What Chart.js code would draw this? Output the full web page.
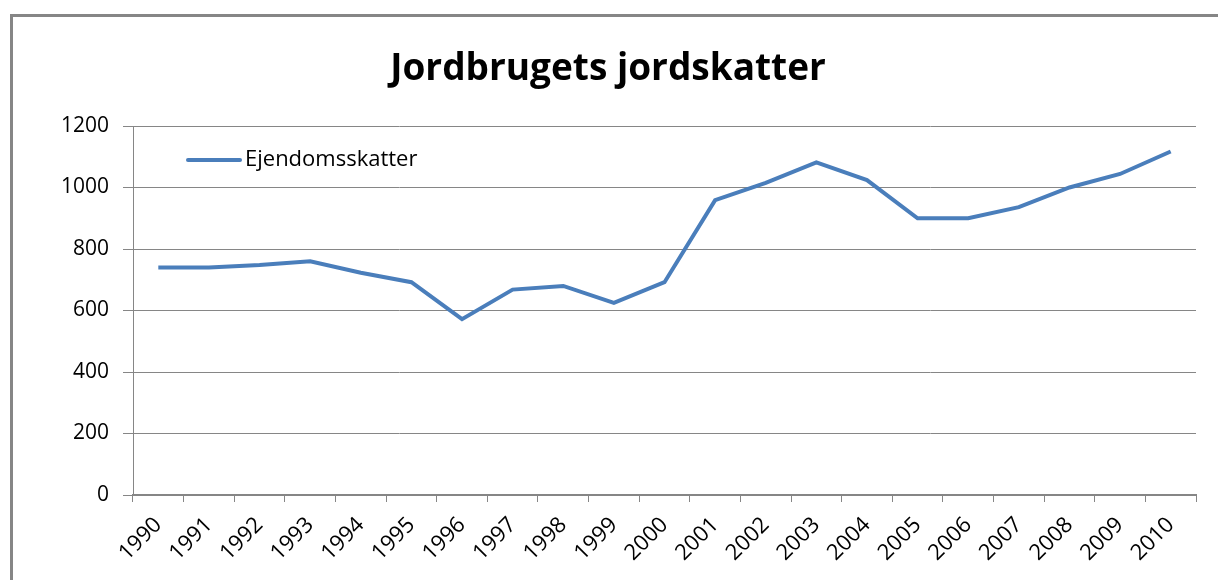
<!DOCTYPE html>
<html lang="da">
<head>
<meta charset="UTF-8">
<title>Jordbrugets jordskatter</title>
<script src="https://cdn.jsdelivr.net/npm/chart.js"></script>
<style>
  html, body { margin: 0; padding: 0; background: #fff; }
  #wrap { width: 1218px; height: 580px; position: relative; }
</style>
</head>
<body>
<div id="wrap"><canvas id="chart" width="1218" height="580"></canvas></div>
<script>
// data
const years = ['1990','1991','1992','1993','1994','1995','1996','1997','1998','1999','2000',
               '2001','2002','2003','2004','2005','2006','2007','2008','2009','2010'];
const ejendomsskatter = [740, 740, 748, 760, 723, 692, 572, 668, 680, 625, 692,
                         959, 1015, 1082, 1024, 900, 900, 936, 1000, 1044, 1117];
const yTicks = [0, 200, 400, 600, 800, 1000, 1200];

const FONT = '"Open Sans", "Liberation Sans", sans-serif';
const GREY = '#868686';
const BLUE = '#4a7ebb';

// grey frame round the chart (left + top edges, the rest is cut off)
const framePlugin = {
  id: 'frame',
  beforeDraw(chart) {
    const c = chart.ctx;
    c.save();
    c.strokeStyle = GREY;
    c.lineWidth = 3;
    c.beginPath();
    c.moveTo(11.5, 600);
    c.lineTo(11.5, 15.5);
    c.lineTo(1230, 15.5);
    c.stroke();
    c.restore();
  }
};

// legend drawn inside the plot, top-left
const innerLegend = {
  id: 'innerLegend',
  afterDatasetsDraw(chart) {
    const c = chart.ctx;
    const ds = chart.data.datasets[0];
    const x = chart.chartArea.left + 55;
    const y = chart.chartArea.top + 34;
    c.save();
    c.strokeStyle = ds.borderColor;
    c.lineWidth = 4;
    c.lineCap = 'round';
    c.beginPath();
    c.moveTo(x, y);
    c.lineTo(x + 52, y);
    c.stroke();
    c.fillStyle = '#000';
    c.font = '22px ' + FONT;
    c.textBaseline = 'middle';
    c.fillText(ds.label, x + 57, y);
    c.restore();
  }
};

new Chart(document.getElementById('chart'), {
  type: 'line',
  data: {
    labels: years,
    datasets: [{
      label: 'Ejendomsskatter',
      data: ejendomsskatter,
      borderColor: BLUE,
      backgroundColor: BLUE,
      borderWidth: 4,
      pointRadius: 0,
      tension: 0,
      fill: false
    }]
  },
  options: {
    responsive: false,
    animation: false,
    layout: { padding: { left: 20, right: 22, top: 0, bottom: 0 } },
    plugins: {
      legend: { display: false },
      tooltip: { enabled: false },
      title: {
        display: true,
        text: 'Jordbrugets jordskatter',
        color: '#000',
        font: { family: FONT, size: 37, weight: 'bold' },
        padding: { top: 47, bottom: 34.6 }
      }
    },
    scales: {
      x: {
        offset: true,
        grid: { offset: true, drawOnChartArea: false, drawTicks: true, tickLength: 7, color: GREY, lineWidth: 1 },
        border: { color: GREY, width: 2 },
        ticks: { color: '#000', font: { family: FONT, size: 22 }, maxRotation: 45, minRotation: 45, padding: 10, autoSkip: false },
        afterFit(scale) { scale.height = 85; }
      },
      y: {
        min: 0,
        max: 1200,
        afterBuildTicks(scale) { scale.ticks = yTicks.map(v => ({ value: v })); },
        grid: { color: GREY, lineWidth: 1, drawTicks: true, tickLength: 10 },
        border: { color: GREY, width: 1 },
        ticks: { color: '#000', font: { family: FONT, size: 21 }, padding: 14, callback: v => String(v) },
        afterFit(scale) { scale.width = 113; }
      }
    }
  },
  plugins: [framePlugin, innerLegend]
});
</script>
</body>
</html>
